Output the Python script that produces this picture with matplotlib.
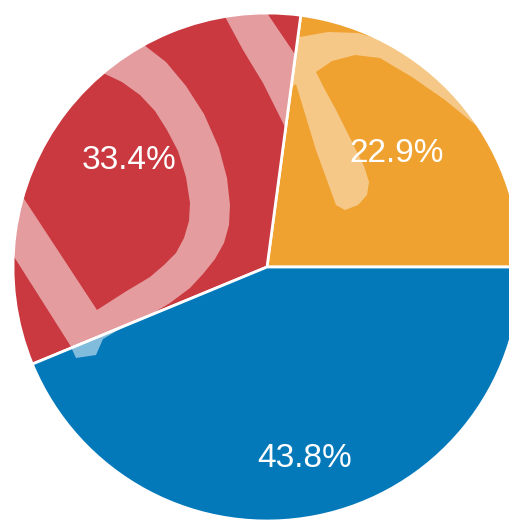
import numpy as np
import matplotlib.pyplot as plt
from matplotlib.patches import PathPatch, Polygon, Circle
from matplotlib.path import Path

W, H = 510, 524

# slice shares in percent, counter-clockwise from 3 o'clock
shares = [22.9, 33.4, 43.8]
colors = ['#F0A231', '#C9393F', '#0479BA']
# how far out each percent label sits (fraction of the radius)
label_r = [0.68, 0.685, 0.77]

cx, cy, R = 267, H - 267, 254


def px(pts):
    # shapes below are laid out with y counted from the top edge
    return [(x, H - y) for x, y in pts]


def signed_area(pts):
    a = np.asarray(pts, float)
    return 0.5 * np.sum(a[:, 0] * np.roll(a[:, 1], -1) - np.roll(a[:, 0], -1) * a[:, 1])


def ring_path(outer, hole):
    outer, hole = px(outer), px(hole)
    if np.sign(signed_area(outer)) == np.sign(signed_area(hole)):
        hole = hole[::-1]
    verts, codes = [], []
    for ring in (outer, hole):
        verts += ring + [ring[0]]
        codes += [Path.MOVETO] + [Path.LINETO] * (len(ring) - 1) + [Path.CLOSEPOLY]
    return Path(verts, codes)


fig = plt.figure(figsize=(W / 100, H / 100), dpi=100)
ax = fig.add_axes([0, 0, 1, 1])

wedges, _ = ax.pie(shares, colors=colors, startangle=0, counterclock=True,
                   center=(cx, cy), radius=R,
                   wedgeprops=dict(edgecolor='white', linewidth=2))
orange_w, red_w, blue_w = wedges

# translucent "D" mark over the red slice
d_outer = [(-60, 140), (70, 345), (76, 358), (96, 355), (103, 339), (120, 329),
           (150, 315), (170, 303), (190, 288), (203, 274), (215, 259), (224, 243),
           (229, 225), (230, 205), (227, 178), (219, 148), (204, 114), (186, 86),
           (166, 62), (144, 45), (110, 5), (-60, 5)]
d_hole = [(-8, 150), (97, 310), (125, 292), (150, 277), (164, 265), (176, 253),
          (184, 238), (189, 221), (190, 203), (186, 177), (178, 151), (167, 130),
          (155, 111), (140, 95), (122, 82), (103, 73), (60, 45)]
d_mark = PathPatch(ring_path(d_outer, d_hole), facecolor='white', edgecolor='none', alpha=0.5)
ax.add_patch(d_mark)
d_mark.set_clip_path(Circle((cx, cy), R, transform=ax.transData))

# diagonal stroke near the top of the red slice
stroke = Polygon(px([(210, -10), (223, 13), (243, 50), (263, 83), (284, 125), (305, 165),
                     (340, 165), (340, 75), (300, 62), (290, 47), (267, 13), (251, -10)]),
                 closed=True, facecolor='white', edgecolor='none', alpha=0.5)
ax.add_patch(stroke)
stroke.set_clip_path(red_w)

# hooked mark over the orange slice
hook = Polygon(px([(280, 35), (300, 37), (328, 32), (358, 33), (395, 44), (432, 62),
                   (470, 80), (515, 120), (500, 150), (478, 127), (445, 100), (412, 77),
                   (380, 58), (355, 55), (332, 61), (316, 72), (324, 88), (336, 110),
                   (350, 138), (364, 166), (369, 182), (367, 195), (358, 205),
                   (345, 210), (336, 205), (316, 150), (296, 84), (282, 94)]),
               closed=True, facecolor='white', edgecolor='none', alpha=0.42)
ax.add_patch(hook)
hook.set_clip_path(orange_w)

total = sum(shares)
for w, v, r in zip(wedges, shares, label_r):
    mid = np.deg2rad((w.theta1 + w.theta2) / 2)
    ax.text(cx + r * R * np.cos(mid), cy + r * R * np.sin(mid), f'{100 * v / total:.1f}%',
            ha='center', va='center', color='white', fontsize=24,
            family=['Liberation Sans', 'DejaVu Sans'])

ax.set_xlim(0, W)
ax.set_ylim(0, H)
ax.axis('off')

fig.savefig('out.png', dpi=100, facecolor='white')
